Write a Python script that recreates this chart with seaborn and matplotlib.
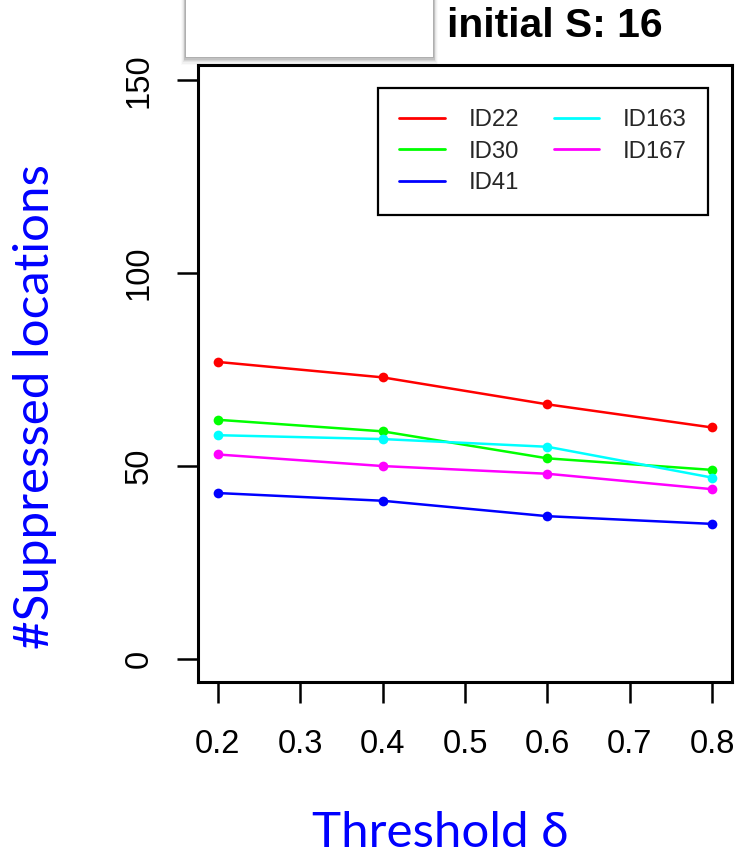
import matplotlib
matplotlib.use("Agg")
import matplotlib.pyplot as plt
from matplotlib.lines import Line2D
from matplotlib.patches import Rectangle
import numpy as np
import pandas as pd
import seaborn as sns

# Data
thresholds = [0.2, 0.4, 0.6, 0.8]
ids = ["ID22", "ID30", "ID41", "ID163", "ID167"]
id22 = [77, 73, 66, 60]
id30 = [62, 59, 52, 49]
id41 = [43, 41, 37, 35]
id163 = [58, 57, 55, 47]
id167 = [53, 50, 48, 44]
colors = ["#ff0000", "#00ff00", "#0000ff", "#00ffff", "#ff00ff"]
x_ticks = [0.2, 0.3, 0.4, 0.5, 0.6, 0.7, 0.8]
y_ticks = [0, 50, 100, 150]

series = [id22, id30, id41, id163, id167]
df = pd.DataFrame({
    "threshold": np.tile(thresholds, len(ids)),
    "count": np.concatenate(series),
    "id": np.repeat(ids, len(thresholds)),
})

sns.set_theme(style="white")
plt.rcParams["font.family"] = ["Liberation Sans", "DejaVu Sans"]

W, H = 741, 856
fig = plt.figure(figsize=(W / 100, H / 100), dpi=100)
ax = fig.add_axes([198 / W, 1 - 682 / H, (732 - 198) / W, (682 - 65) / H])

palette = dict(zip(ids, colors))
sns.lineplot(data=df, x="threshold", y="count", hue="id", hue_order=ids,
             palette=palette, marker="o", markersize=7, markeredgewidth=0,
             linewidth=1.8, ax=ax, legend=False)

ax.set_xlim(0.176, 0.824)
ax.set_ylim(-6, 154)
ax.set_xticks(x_ticks)
ax.set_xticklabels([f"{v:.1f}" for v in x_ticks])
ax.set_yticks(y_ticks)
ax.set_yticklabels([str(v) for v in y_ticks], rotation=90, va="center")

for s in ax.spines.values():
    s.set_visible(True)
    s.set_color("black")
    s.set_linewidth(2.2)
ax.tick_params(axis="both", direction="out", length=15, width=1.8,
               color="black", labelsize=23.5, labelcolor="black",
               left=True, bottom=True)
ax.tick_params(axis="x", pad=19)
ax.tick_params(axis="y", pad=16)

ax.set_xlabel("Threshold δ", family=["Lato", "DejaVu Sans"], fontsize=35.5,
              color="#0000ff")
ax.set_ylabel("#Suppressed locations", family=["Lato", "DejaVu Sans"],
              fontsize=35.5, color="#0000ff")
ax.xaxis.set_label_coords(0.453, -0.245)
ax.yaxis.set_label_coords(-0.305, 0.446)
ax.xaxis.label.set_va("center")
ax.yaxis.label.set_va("center")

handles = [Line2D([], [], color=c, linewidth=2.0) for c in colors]
leg = ax.legend(handles, ids, ncol=2, loc="upper right",
                bbox_to_anchor=(1 - 24 / 534, 1 - 23 / 617),
                borderaxespad=0, fontsize=17.2, frameon=True,
                fancybox=False, framealpha=1, edgecolor="black",
                handlelength=1.9, handletextpad=1.0, columnspacing=1.45,
                labelspacing=0.4, borderpad=0.88)
leg.get_frame().set_linewidth(1.6)

# Blank panel with a soft drop shadow at the top
for i, a in enumerate(np.linspace(0.10, 0.02, 6)):
    d = i + 1
    fig.patches.append(Rectangle(((186 - d * 0.8) / W, 1 - (57 + d * 1.3) / H),
                                 (247 + d * 1.6) / W, (60 + d) / H,
                                 transform=fig.transFigure, facecolor="black",
                                 edgecolor="none", alpha=a, zorder=5))
fig.patches.append(Rectangle((186 / W, 1 - 57 / H), 247 / W, 60 / H,
                             transform=fig.transFigure, facecolor="white",
                             edgecolor="none", zorder=6))

fig.text(447 / W, 1 - 26 / H, "initial S: 16", fontsize=29.3,
         fontweight="bold", ha="left", va="center", color="black")

fig.savefig("out.png", dpi=100)
